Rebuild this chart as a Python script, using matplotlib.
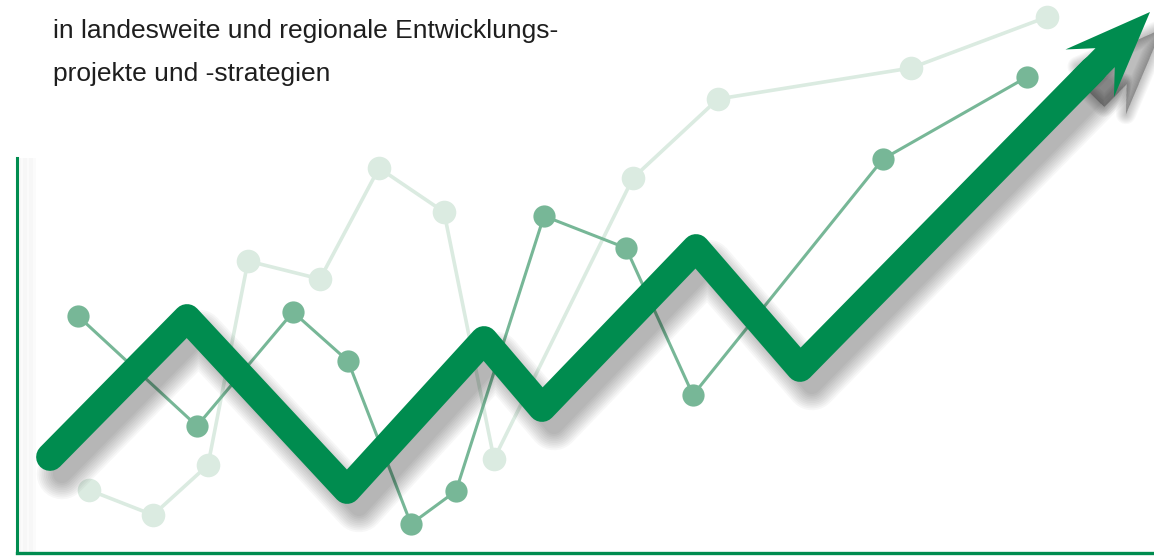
import numpy as np
import matplotlib
matplotlib.use("Agg")
import matplotlib.pyplot as plt
from matplotlib.patches import Polygon

# chart values (x = position, y = level above the baseline)
main_x = [33, 170, 330, 467, 525, 679, 783]
main_y = [96, 235, 63, 213, 145, 305, 185]
tip_x, tip_y = 1133, 541

mid_x = [61, 180, 276, 331, 394, 439, 527, 609, 676, 866, 1010]
mid_y = [237, 127, 241, 192, 29, 62, 337, 305, 158, 394, 476]

light_x = [72, 136, 191, 231, 303, 362, 427, 477, 616, 701, 894, 1030]
light_y = [63, 38, 88, 292, 274, 385, 341, 94, 375, 454, 485, 536]

text_lines = ["in landesweite und regionale Entwicklungs-",
              "projekte und -strategien"]

green = "#008c4f"
mid_green = "#77b797"
light_green = "#dbebe1"

W, H = 1154, 560
fig = plt.figure(figsize=(W / 100, H / 100), dpi=100)
left, bottom, top = 17, 7, 158
ax = fig.add_axes([left / W, bottom / H, 1 - left / W, (H - bottom - top) / H])
ax.set_xlim(0, W - left)
ax.set_ylim(0, H - bottom - top)

for s in ["top", "right"]:
    ax.spines[s].set_visible(False)
ax.spines["left"].set_color(green)
ax.spines["bottom"].set_color(green)
ax.spines["left"].set_linewidth(2.2)
ax.spines["bottom"].set_linewidth(2.4)
ax.set_xticks([])
ax.set_yticks([])

# soft shade right of the vertical axis
for i in range(14):
    ax.axvline(2 + i * 1.2, color="k", alpha=0.015, lw=1.5, zorder=0)

# light series
ax.plot(light_x, light_y, color=light_green, lw=2.6, marker="o", ms=17,
        mec="none", zorder=1, clip_on=False)
# medium series
ax.plot(mid_x, mid_y, color=mid_green, lw=2.2, marker="o", ms=16,
        mec="none", zorder=2, clip_on=False)

# arrow head built from the shaft direction
px, py = main_x[-1], main_y[-1]
d = np.array([tip_x - px, tip_y - py], dtype=float)
d /= np.hypot(*d)
n = np.array([-d[1], d[0]])
tip = np.array([tip_x, tip_y], dtype=float)
head_len, head_half, shaft_half, notch = 86, 34, 13.5, 22
base = tip - d * head_len
head = [tip,
        base + n * head_half,
        base + d * notch + n * shaft_half,
        base - d * 10 + n * shaft_half,
        base - d * 10 - n * shaft_half,
        base + d * notch - n * shaft_half,
        base - n * head_half]
shaft_end = base + d * 5
line_x = main_x + [shaft_end[0]]
line_y = main_y + [shaft_end[1]]

# blurred shadow
sx, sy = 12, -17
for i in range(10):
    lw = 13 + i * 2.6
    ax.plot(np.array(line_x) + sx, np.array(line_y) + sy, color="k",
            lw=lw, alpha=0.03, solid_capstyle="round",
            solid_joinstyle="round", zorder=3, clip_on=False)
    ax.add_patch(Polygon([(p[0] + sx, p[1] + sy) for p in head], closed=True,
                         fc="k", ec="k", lw=i * 1.6, alpha=0.026,
                         joinstyle="round", zorder=3, clip_on=False))

ax.plot(line_x, line_y, color=green, lw=20, solid_capstyle="round",
        solid_joinstyle="round", zorder=4, clip_on=False)
ax.add_patch(Polygon(head, closed=True, fc=green, ec="none", zorder=5,
                     clip_on=False))

for i, t in enumerate(text_lines):
    fig.text(53 / W, 1 - (31 + i * 43) / H, t, fontsize=19,
             family="Liberation Sans", color="#1e1e1e", va="center")

fig.savefig("out.png", dpi=100)
